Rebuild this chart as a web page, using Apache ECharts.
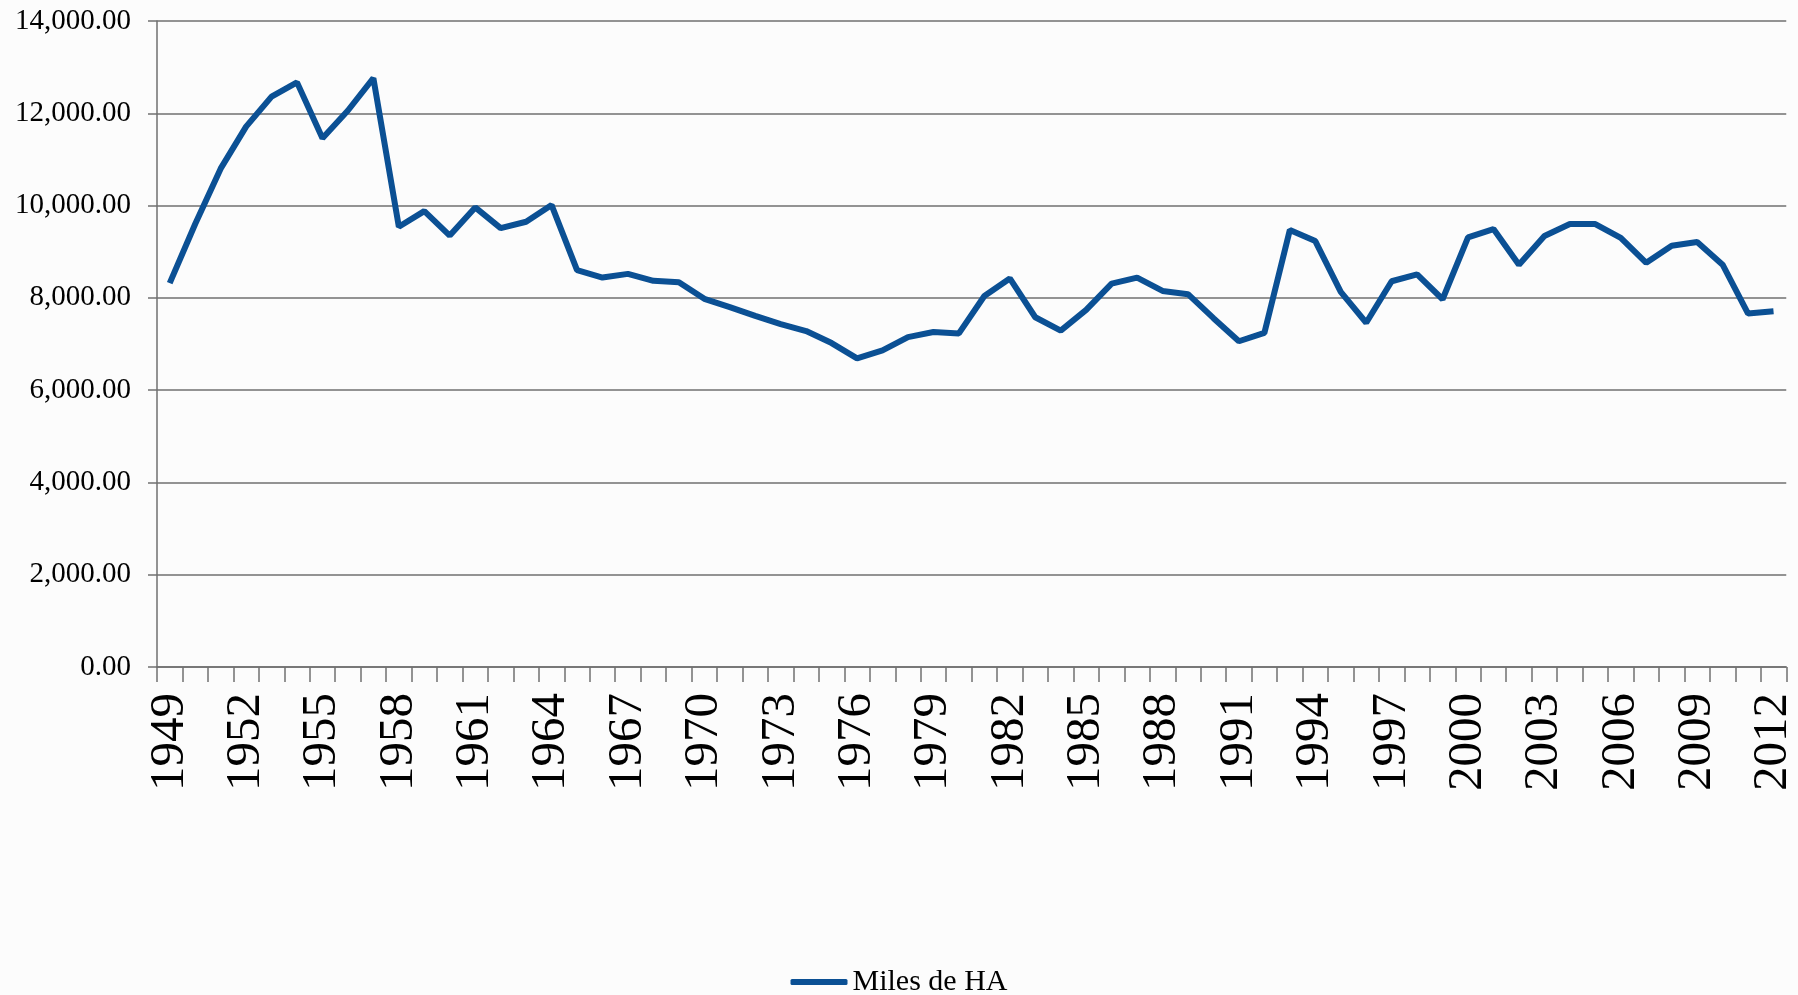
<!DOCTYPE html>
<html>
<head>
<meta charset="utf-8">
<script src="https://cdn.jsdelivr.net/npm/echarts@6/dist/echarts.min.js"></script>
<style>
  html, body { margin: 0; padding: 0; background: #fcfcfc; }
  #main { width: 1798px; height: 995px; }
</style>
</head>
<body>
<div id="main"></div>
<script type="text/javascript">
// años y superficie (miles de HA)
var years = [];
for (var y = 1949; y <= 2012; y++) years.push(String(y));

var milesHA = [
    8320, 9600, 10800, 11710, 12360, 12670, 11460, 12060, 12760, 9540,
    9880, 9350, 9960, 9510, 9650, 10010, 8600, 8440, 8520, 8370,
    8340, 7980, 7800, 7610, 7430, 7280, 7020, 6690, 6860, 7150,
    7260, 7230, 8040, 8420, 7580, 7290, 7740, 8310, 8440, 8150,
    8080, 7560, 7060, 7240, 9470, 9230, 8130, 7460, 8360, 8510,
    7970, 9310, 9490, 8720, 9340, 9600, 9600, 9300, 8760, 9130,
    9210, 8720, 7660, 7710
];

var yMin = 0, yMax = 14000, yStep = 2000;
var serif = '"Liberation Serif", "DejaVu Serif", serif';

var myChart = echarts.init(document.getElementById('main'));

var option = {
    backgroundColor: '#fcfcfc',
    animation: false,
    grid: {
        left: 157,
        right: 9,
        top: 21,
        bottom: 328
    },
    legend: {
        data: ['Miles de HA'],
        left: 'center',
        top: 962,
        icon: 'roundRect',
        itemWidth: 57,
        itemHeight: 6,
        itemGap: 8,
        textStyle: {
            fontFamily: serif,
            fontSize: 30,
            color: '#000'
        }
    },
    xAxis: {
        type: 'category',
        data: years,
        boundaryGap: true,
        axisLine: { lineStyle: { color: '#707070', width: 1.5 } },
        axisTick: {
            show: true,
            interval: 0,
            length: 15,
            lineStyle: { color: '#707070', width: 1.5 }
        },
        axisLabel: {
            interval: 2,
            rotate: 90,
            margin: 26,
            fontFamily: serif,
            fontSize: 49,
            color: '#000'
        }
    },
    yAxis: {
        type: 'value',
        min: yMin,
        max: yMax,
        interval: yStep,
        axisLine: { show: true, lineStyle: { color: '#707070', width: 1.5 } },
        axisTick: { show: true, length: 9, lineStyle: { color: '#707070', width: 1.5 } },
        splitLine: { lineStyle: { color: '#707070', width: 1.5 } },
        axisLabel: {
            margin: 26,
            fontFamily: serif,
            fontSize: 29,
            color: '#000',
            formatter: function (v) {
                return v.toLocaleString('en-US', { minimumFractionDigits: 2, maximumFractionDigits: 2 });
            }
        }
    },
    series: [
        {
            name: 'Miles de HA',
            type: 'line',
            data: milesHA,
            showSymbol: false,
            symbol: 'none',
            lineStyle: { color: '#0b5094', width: 6 },
            itemStyle: { color: '#0b5094' }
        }
    ]
};

myChart.setOption(option);
</script>
</body>
</html>
